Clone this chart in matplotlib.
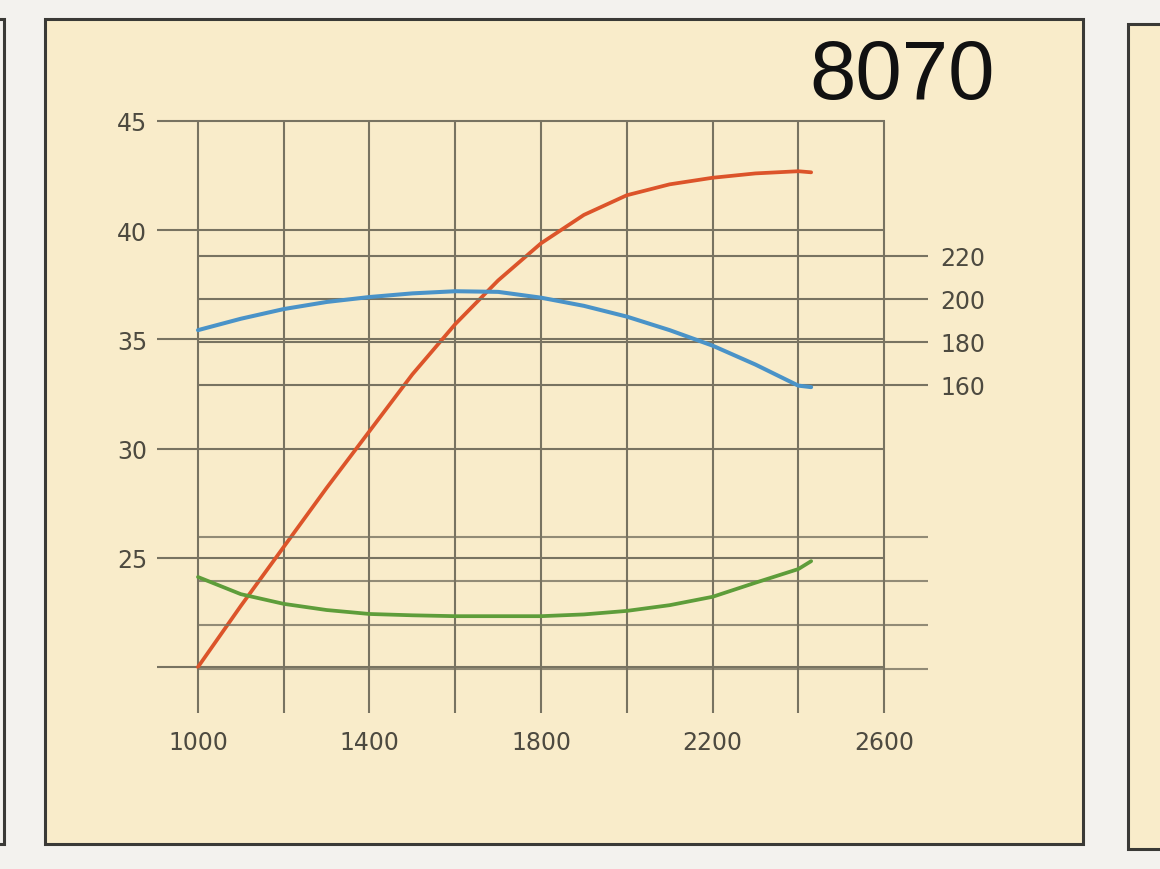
import matplotlib
matplotlib.use("Agg")
import matplotlib.pyplot as plt
from matplotlib.patches import Rectangle

# engine speed (rpm) at which the curves were read
rpm = [1000, 1100, 1200, 1300, 1400, 1500, 1600, 1700, 1800, 1900, 2000, 2100, 2200, 2300, 2400, 2430]

# power, left scale
power = [20.0, 22.8, 25.5, 28.2, 30.8, 33.4, 35.7, 37.7, 39.4, 40.7, 41.6, 42.1, 42.4, 42.6, 42.7, 42.65]

# torque, right scale (160 - 220)
torque = [185.5, 190.8, 195.3, 198.6, 200.9, 202.6, 203.6, 203.3, 200.6, 196.8, 191.8, 185.5, 178.3, 169.5, 159.7, 159.0]

# fuel consumption, unlabelled lower right scale
fuel = [220.9, 217.0, 214.8, 213.4, 212.5, 212.2, 212.0, 212.0, 212.0, 212.4, 213.2, 214.5, 216.4, 219.6, 222.7, 224.5]

x_ticks = [1000, 1400, 1800, 2200, 2600]
x_grid = [1000, 1200, 1400, 1600, 1800, 2000, 2200, 2400, 2600]
left_ticks = [25, 30, 35, 40, 45]
left_grid = [20, 25, 30, 35, 40, 45]
right_ticks = [160, 180, 200, 220]
fuel_grid = [200, 210, 220, 230]

title = "8070"

BG = '#f3f2ee'
PANEL = '#f9ecca'
GRID = '#787361'
TXT = '#4d4a40'

fig = plt.figure(figsize=(11.6, 8.7), dpi=100)
fig.patch.set_facecolor(BG)

W, H = 1160.0, 870.0


def fig_rect(x0, y0, x1, y1, **kw):
    # rectangle given in pixels from the top left corner
    return Rectangle((x0 / W, 1 - y1 / H), (x1 - x0) / W, (y1 - y0) / H,
                     transform=fig.transFigure, zorder=-5, **kw)


fig.patches.append(fig_rect(45, 20, 1083, 845, facecolor=PANEL, edgecolor='#3a3a36', linewidth=2.2))
fig.patches.append(fig_rect(1128, 25, 1200, 850, facecolor=PANEL, edgecolor='#3a3a36', linewidth=2.2))
fig.patches.append(fig_rect(-40, 20, 4, 845, facecolor=BG, edgecolor='#3a3a36', linewidth=2.2))

ax = fig.add_axes([150 / W, 1 - 720 / H, 790 / W, 620 / H])
ax.set_facecolor('none')
for s in ax.spines.values():
    s.set_visible(False)
ax.set_xlim(888.1, 2730.5)
ax.set_ylim(17.62, 46.007)

ax_r = ax.twinx()
ax_r.set_ylim(4.65, 293.0)
for s in ax_r.spines.values():
    s.set_visible(False)

ax_f = ax.twinx()
ax_f.set_ylim(188.64, 329.5)
ax_f.axis('off')

# grid
ax.vlines(x_grid, 17.9, 45, color=GRID, linewidth=1.5, zorder=1)
ax.hlines(left_grid, 904, 2602, color=GRID, linewidth=1.5, zorder=1)
ax_r.hlines(right_ticks, 1000, 2702, color=GRID, linewidth=1.5, zorder=1)
ax_f.hlines(fuel_grid, 1000, 2702, color=GRID, linewidth=1.5, alpha=0.8, zorder=1)

# curves
ax.plot(rpm, power, color='#dc542a', linewidth=2.7, solid_capstyle='round',
        solid_joinstyle='round', zorder=5)
ax_r.plot(rpm, torque, color='#4a93c8', linewidth=2.9, solid_capstyle='round',
          solid_joinstyle='round', zorder=5)
ax_f.plot(rpm, fuel, color='#5e9d3a', linewidth=2.7, solid_capstyle='round',
          solid_joinstyle='round', zorder=5)

ax.set_xticks(x_ticks)
ax.set_xticklabels([str(v) for v in x_ticks])
ax.set_yticks(left_ticks)
ax.set_yticklabels([str(v) for v in left_ticks])
ax.tick_params(axis='x', length=0, pad=8, labelsize=17, labelcolor=TXT)
ax.tick_params(axis='y', length=0, pad=2, labelsize=17, labelcolor=TXT)
ax_r.set_yticks(right_ticks)
ax_r.set_yticklabels([str(v) for v in right_ticks])
ax_r.tick_params(axis='y', length=0, pad=0, labelsize=17, labelcolor=TXT)

fig.text(995 / W, 1 - 99 / H, title, ha='right', va='baseline',
         fontsize=60, family='Liberation Sans', color='#111111')

fig.savefig('out.png', dpi=100, facecolor=fig.get_facecolor())
